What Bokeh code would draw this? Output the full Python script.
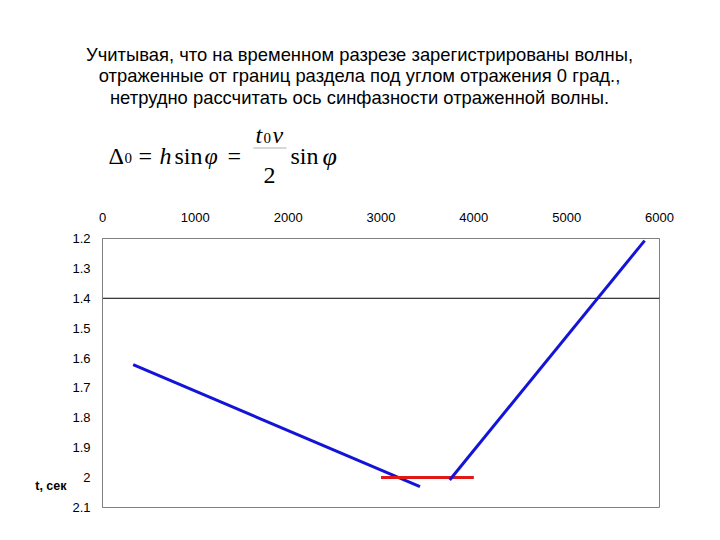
from bokeh.plotting import figure
from bokeh.layouts import column, row
from bokeh.models import Range1d, FixedTicker, LinearAxis, Spacer
from bokeh.core.properties import value
from bokeh.embed import file_html
from bokeh.resources import INLINE

# ---- data ----
title_lines = [
    "Учитывая, что на временном разрезе зарегистрированы волны,",
    "отраженные от границ раздела под углом отражения 0 град.,",
    "нетрудно рассчитать ось синфазности отраженной волны.",
]
x_ticks = [0, 1000, 2000, 3000, 4000, 5000, 6000]
y_ticks = [1.2, 1.3, 1.4, 1.5, 1.6, 1.7, 1.8, 1.9, 2, 2.1]
y_tick_labels = ["1.2", "1.3", "1.4", "1.5", "1.6", "1.7", "1.8", "1.9", "2", "2.1"]

left_branch_x = [330, 3420]
left_branch_y = [1.622, 2.03]
right_branch_x = [3740, 5840]
right_branch_y = [2.008, 1.207]
red_x = [3000, 4000]
red_y = [2.0, 2.0]
ref_x = [0, 6000]
ref_y = [1.4, 1.4]
y_axis_name = "t, сек"
y_axis_name_pos = 2.028

W = 712
HH = 198           # header height (page y 0..198)
HC = 334           # chart height (page y 198..532)
FL, FR, FT, FB = 102, 659, 238, 507   # chart frame in page pixels
SP = 30            # spacer left of chart figure
HL = 72            # header frame left (page px)

# ---- header figure: data coords == page pixels ----
h = figure(width=W, height=HH, x_range=Range1d(HL, FR), y_range=Range1d(HH, 0),
           output_backend="svg", toolbar_location=None,
           min_border_left=HL, min_border_right=W - FR, min_border_top=0,
           min_border_bottom=0)
h.axis.visible = False
h.grid.visible = False
h.outline_line_color = None

sans = value("Liberation Sans")
serif = value("Liberation Serif")
for i, line in enumerate(title_lines):
    h.text(x=[359], y=[53.5 + 21.8 * i], text=[line], text_font=sans,
           text_font_size="18.4px", text_align="center", text_baseline="alphabetic",
           text_color="#000000")


def t(x, y, s, size="24px", style="normal"):
    h.text(x=[x], y=[y], text=[s], text_font=serif, text_font_size=size,
           text_font_style=style, text_align="left", text_baseline="alphabetic",
           text_color="#000000")


base = 155.5
t(108, base, "Δ")
t(124, base + 2, "0", size="15px")
t(138, base, "=")
t(159, base, "h", style="italic")
t(174, base, "sin")
t(204, base, "φ", style="italic")
t(227, base, "=")
t(255, 134.5, "t", style="italic")
t(263, 137, "0", size="15px")
t(272, 134.5, "v", style="italic")
h.segment(x0=[253], y0=[147.5], x1=[286], y1=[147.5], line_color="#b0b0b0", line_width=1)
t(263, 175, "2")
t(290, base, "sin")
t(322, base, "φ", size="26px", style="italic")

# ---- chart figure ----
p = figure(width=W - SP, height=HC, x_range=Range1d(0, 6000), y_range=Range1d(2.1, 1.2),
           x_axis_location="above", output_backend="svg", toolbar_location=None,
           min_border_left=FL - SP, min_border_right=W - FR, min_border_top=FT - HH,
           min_border_bottom=HH + HC - FB)
p.grid.visible = False
p.outline_line_color = "#808080"
p.outline_line_width = 1

p.xaxis.ticker = FixedTicker(ticks=x_ticks)
p.yaxis.ticker = FixedTicker(ticks=y_ticks)
p.yaxis.major_label_overrides = {v: s for v, s in zip(y_ticks, y_tick_labels)}
for ax in (p.xaxis, p.yaxis):
    ax.axis_line_color = "#808080"
    ax.major_tick_out = 0
    ax.major_tick_in = 0
    ax.minor_tick_out = 0
    ax.minor_tick_in = 0
    ax.major_label_text_font = "Liberation Sans"
    ax.major_label_text_font_size = "13px"
    ax.major_label_text_color = "#000000"
p.xaxis.major_label_standoff = 17
p.yaxis.major_label_standoff = 12

# secondary left axis carrying only the "t, сек" caption
p.extra_y_ranges = {"cap": Range1d(2.1, 1.2)}
cap_axis = LinearAxis(y_range_name="cap", ticker=FixedTicker(ticks=[y_axis_name_pos]),
                      major_label_overrides={y_axis_name_pos: y_axis_name},
                      axis_line_color=None, major_tick_out=0, major_tick_in=0,
                      minor_tick_out=0, minor_tick_in=0, major_label_standoff=3,
                      major_label_text_font="Liberation Sans",
                      major_label_text_font_size="12.5px",
                      major_label_text_font_style="bold",
                      major_label_text_color="#000000")
p.add_layout(cap_axis, "left")

p.line(ref_x, ref_y, line_color="#000000", line_width=1)
p.line(left_branch_x, left_branch_y, line_color="#1414d8", line_width=3)
p.line(red_x, red_y, line_color="#e01818", line_width=3)
p.line(right_branch_x, right_branch_y, line_color="#1414d8", line_width=3)

layout = column(h, row(Spacer(width=SP, height=HC), p, spacing=0), spacing=0)
open("out.html", "w").write(file_html(layout, INLINE))
